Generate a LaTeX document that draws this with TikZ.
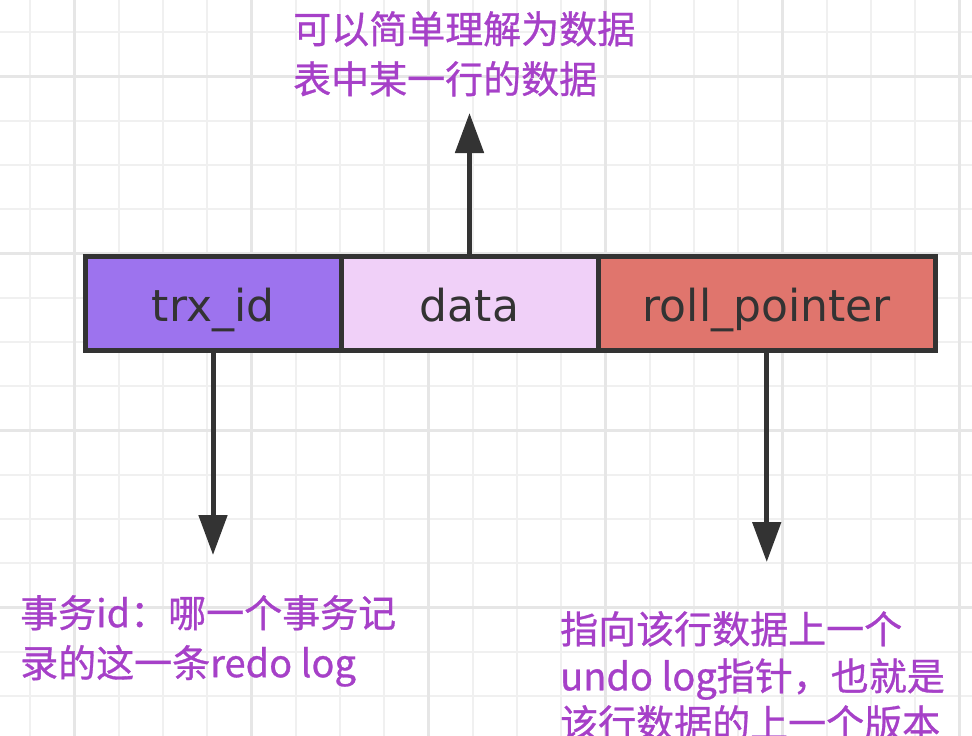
\documentclass[tikz,border=0pt]{standalone}
\usepackage{fontspec}
\newfontfamily\cjk[FakeBold=0.8]{Noto Sans CJK SC}
\newfontfamily\cellfont{DejaVu Sans}
\usetikzlibrary{positioning,arrows.meta}
\definecolor{gridline}{HTML}{F0F0F0}
\definecolor{gridmajor}{HTML}{E6E6E6}
\definecolor{edge}{HTML}{333333}
\definecolor{trxfill}{HTML}{9D73EE}
\definecolor{datafill}{HTML}{F0D0F8}
\definecolor{rollfill}{HTML}{E0756D}
\definecolor{notetext}{HTML}{A640C8}
\begin{document}
\begin{tikzpicture}[x=1pt,y=-1pt,
  cell/.style={draw=edge,line width=5pt,outer sep=0pt,inner sep=0pt,minimum height=93.5pt,
    text height=36pt,text depth=0pt,text=edge,font=\cellfont\fontsize{44}{44}\selectfont},
  note/.style={anchor=north west,inner sep=0pt,align=left,text=notetext,font=\cjk\fontsize{38}{50}\selectfont},
  pointer/.style={draw=edge,line width=5pt,-{Triangle[length=40pt,width=28pt]}}]
\fill[white] (0,0) rectangle (972,736);
\clip (0,0) rectangle (972,736);
\foreach \i in {0,...,21} \draw[gridline,line width=2pt] ({30+44.25*\i},0) -- ++(0,736);
\foreach \i in {0,...,16} \draw[gridline,line width=2pt] (0,{32+44.25*\i}) -- ++(972,0);
\foreach \i in {0,...,5} {
  \draw[gridmajor,line width=2.5pt] ({74.25+177*\i},0) -- ++(0,736);
  \draw[gridmajor,line width=2.5pt] (0,{76.25+177*\i}) -- ++(972,0);
}
\node[cell,fill=trxfill,minimum width=256pt] (trx) at (213,303.25) {trx\_id};
\node[cell,fill=datafill,minimum width=257pt,right=0pt of trx] (data) {data};
\node[cell,fill=rollfill,minimum width=337.5pt,right=0pt of data] (roll) {roll\_pointer};
\draw[pointer] (data.north) -- ++(0,-143.5) coordinate (datatip);
\draw[pointer] (trx.south) -- ++(0,205) coordinate (trxtip);
\draw[pointer] (roll.south) -- ++(0,212) coordinate (rolltip);
\node[note] (datanote) at (293,11) {可以简单理解为数据\\表中某一行的数据};
\node[note] (trxnote) at (20,595) {事务id：哪一个事务记\\录的这一条redo log};
\node[note,font=\cjk\fontsize{38}{47}\selectfont] (rollnote) at (560,611) {指向该行数据上一个\\undo log指针，也就是\\该行数据的上一个版本};
\end{tikzpicture}
\end{document}
